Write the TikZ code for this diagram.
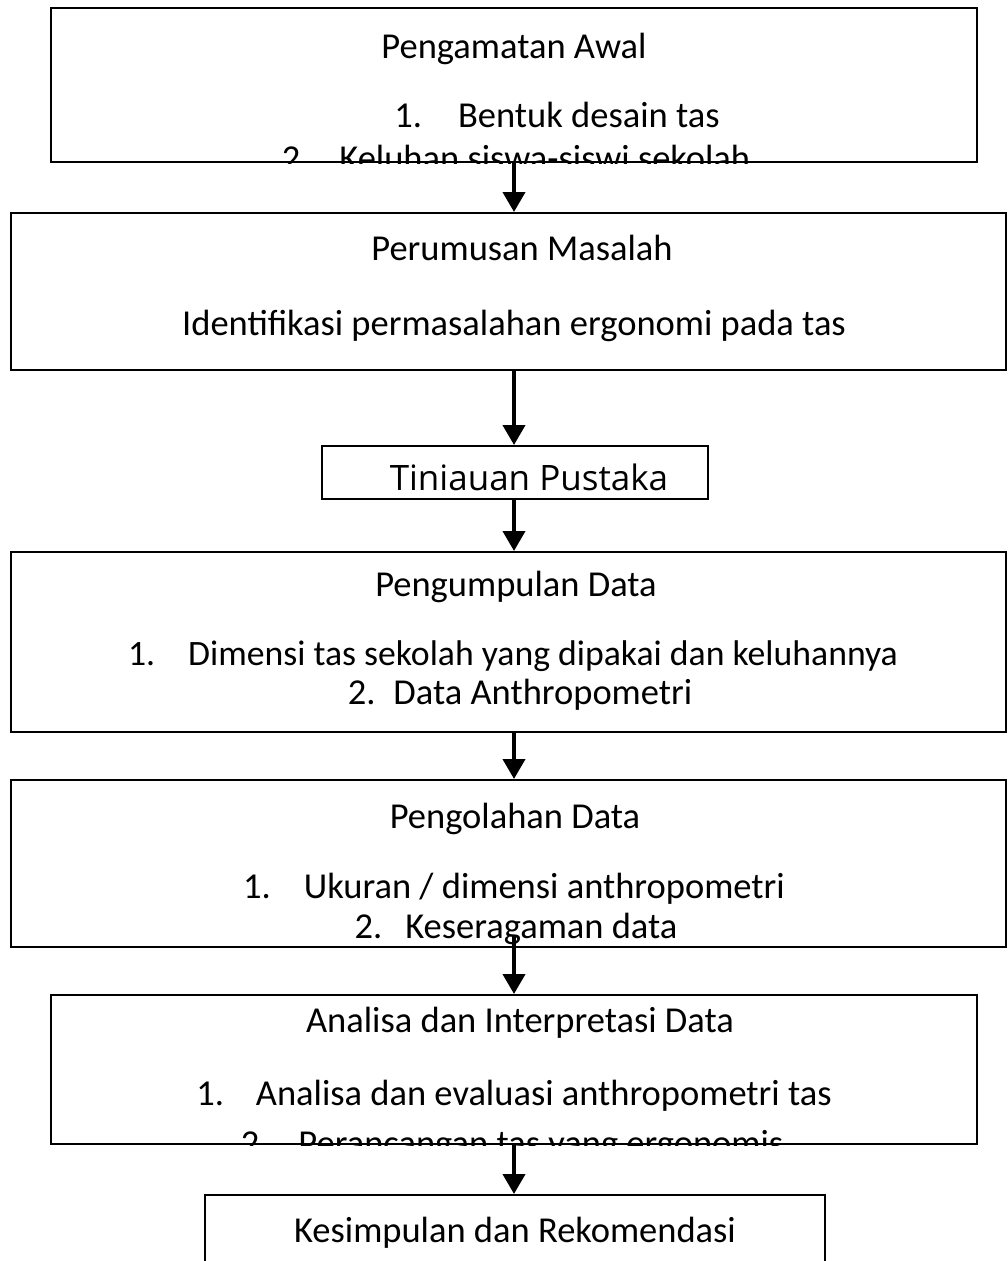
\documentclass[tikz,border=0pt]{standalone}
\usepackage{fontspec}
\setmainfont{Carlito}
\newfontfamily\tinfont{Open Sans}
\usetikzlibrary{arrows.meta}
\begin{document}
\begin{tikzpicture}[x=1pt,y=-1pt]
\tikzset{
  box/.style={draw,line width=2pt,inner sep=0pt},
  txt/.style={anchor=base,inner sep=0pt,font=\fontsize{36.5}{36.5}\selectfont},
  arr/.style={line width=4pt,-{Triangle[length=20pt,width=22pt]}}
}
\useasboundingbox (0,0) rectangle (1007,1261);
\fill[white] (0,0) rectangle (1007,1261);
% boxes
\node[box,minimum width=926pt,minimum height=154pt] (b1) at (514,85) {};
\node[box,minimum width=995pt,minimum height=157pt] (b2) at (508.5,291.5) {};
\node[box,minimum width=386pt,minimum height=53pt] (b3) at (515,472.5) {};
\node[box,minimum width=995pt,minimum height=180pt] (b4) at (508.5,642) {};
\node[box,minimum width=995pt,minimum height=167pt] (b5) at (508.5,863.5) {};
\node[box,minimum width=926pt,minimum height=149pt] (b6) at (514,1069.5) {};
\node[box,minimum width=620pt,minimum height=105pt] (b7) at (515,1247.5) {};
% texts box 1 (clipped)
\begin{scope}
\clip (b1.north west) rectangle (b1.south east);
\node[txt] (t1a) at (514,58) {Pengamatan Awal};
\node[txt] (t1b) at (557,127) {1.\hspace{36pt}Bentuk desain tas};
\node[txt] (t1c) at (516,170) {2.\hspace{30pt}Keluhan siswa-siswi sekolah};
\end{scope}
% box 2
\node[txt] (t2a) at (522,260) {Perumusan Masalah};
\node[txt] (t2b) at (514,335) {Identifikasi permasalahan ergonomi pada tas};
% box 3
\node[txt,font=\tinfont\fontsize{35}{35}\selectfont] (t3) at (529,490) {Tiniauan Pustaka};
% box 4
\node[txt] (t4a) at (516,596) {Pengumpulan Data};
\node[txt,font=\fontsize{35.7}{35.7}\selectfont] (t4b) at (513,665) {1.\hspace{33pt}Dimensi tas sekolah yang dipakai dan keluhannya};
\node[txt] (t4c) at (520,704) {2.\hspace{18pt}Data Anthropometri};
% box 5
\node[txt] (t5a) at (515,828) {Pengolahan Data};
\node[txt] (t5b) at (514,898) {1.\hspace{33pt}Ukuran / dimensi anthropometri};
\node[txt] (t5c) at (516,938) {2.\hspace{23pt}Keseragaman data};
% box 6 (clipped)
\begin{scope}
\clip (b6.north west) rectangle (b6.south east);
\node[txt] (t6a) at (520,1032) {Analisa dan Interpretasi Data};
\node[txt] (t6b) at (514,1105) {1.\hspace{32pt}Analisa dan evaluasi anthropometri tas};
\node[txt] (t6c) at (512,1155) {2.\hspace{30pt}Perancangan tas yang ergonomis};
\end{scope}
% box 7
\node[txt] (t7) at (515,1242) {Kesimpulan dan Rekomendasi};
% arrows
\coordinate (a5) at (514,936);
\draw[arr] (b1.south) -- (b1.south |- b2.north);
\draw[arr] (b1.south |- b2.south) -- (b1.south |- b3.north);
\draw[arr] (b1.south |- b3.south) -- (b1.south |- b4.north);
\draw[arr] (b1.south |- b4.south) -- (b1.south |- b5.north);
\draw[arr] (a5) -- (a5 |- b6.north);
\draw[arr] (b6.south) -- (b6.south |- b7.north);
\end{tikzpicture}
\end{document}
